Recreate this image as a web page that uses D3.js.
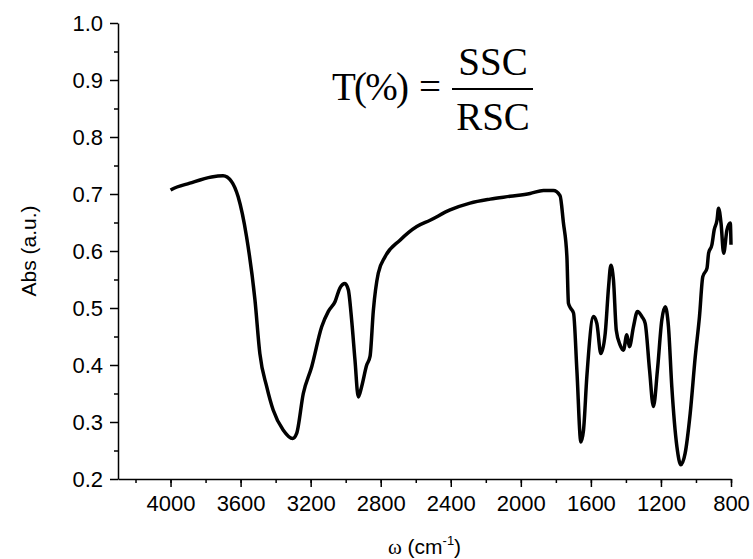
<!DOCTYPE html>
<html>
<head>
<meta charset="utf-8">
<script src="https://cdn.jsdelivr.net/npm/d3@7"></script>
<style>
  body { margin: 0; background: #fff; }
  svg { display: block; }
  .tick text { font-family: Arial, "Liberation Sans", sans-serif; font-size: 22px; fill: #000; }
  .axis path, .axis line { stroke: #000; stroke-width: 1.5; }
</style>
</head>
<body>
<svg id="chart"></svg>
<script>
// wavenumber (cm^-1) and absorbance
var wavenumbers = [4000, 3994, 3890, 3766, 3700, 3652, 3614, 3566, 3518, 3490, 3451, 3414, 3357, 3303, 3280,
  3242, 3194, 3137, 3099, 3061, 3033, 3004, 2985, 2966, 2947, 2928, 2909, 2880, 2861, 2842, 2814, 2775,
  2690, 2594, 2518, 2404, 2290, 2175, 2061, 1947, 1871, 1814, 1776, 1757, 1737, 1728, 1714, 1699, 1680,
  1657, 1642, 1623, 1585, 1566, 1543, 1518, 1499, 1486, 1471, 1455, 1433, 1414, 1395, 1380, 1357, 1334,
  1309, 1290, 1265, 1243, 1220, 1195, 1176, 1157, 1138, 1109, 1086, 1062, 1033, 1004, 980, 961, 937,
  928, 909, 896, 880, 871, 857, 842, 823, 804, 800];
var absorbance = [0.707, 0.708, 0.719, 0.730, 0.732, 0.722, 0.695, 0.625, 0.514, 0.420, 0.362, 0.321, 0.286, 0.271, 0.280,
  0.350, 0.397, 0.467, 0.494, 0.511, 0.535, 0.543, 0.532, 0.479, 0.409, 0.344, 0.362, 0.400, 0.415, 0.496, 0.561, 0.590,
  0.619, 0.643, 0.654, 0.672, 0.684, 0.691, 0.696, 0.701, 0.706, 0.706, 0.697, 0.650, 0.590, 0.508, 0.499, 0.491, 0.391,
  0.265, 0.286, 0.380, 0.485, 0.473, 0.420, 0.456, 0.537, 0.575, 0.549, 0.461, 0.435, 0.426, 0.453, 0.432, 0.467, 0.494,
  0.485, 0.473, 0.391, 0.327, 0.391, 0.479, 0.502, 0.467, 0.362, 0.257, 0.225, 0.245, 0.315, 0.415, 0.485, 0.555, 0.570,
  0.596, 0.611, 0.637, 0.654, 0.675, 0.649, 0.596, 0.637, 0.649, 0.611];

var xTicks = [4000, 3600, 3200, 2800, 2400, 2000, 1600, 1200, 800];
var yTicks = [0.2, 0.3, 0.4, 0.5, 0.6, 0.7, 0.8, 0.9, 1.0];

var width = 753, height = 559;
var margin = {top: 23, right: 22, bottom: 80, left: 118};

var svg = d3.select("#chart")
  .attr("width", width)
  .attr("height", height);

var x = d3.scaleLinear()
  .domain([4300, 800])
  .range([margin.left, width - margin.right]);

var y = d3.scaleLinear()
  .domain([0.2, 1.0])
  .range([height - margin.bottom, margin.top]);

// minor ticks first, major on top
svg.append("g")
  .attr("class", "axis")
  .attr("transform", "translate(0," + (height - margin.bottom) + ")")
  .call(d3.axisBottom(x).tickValues(d3.range(4200, 799, -200)).tickSize(4).tickFormat(""))
  .call(function (g) { g.select(".domain").remove(); });

svg.append("g")
  .attr("class", "axis")
  .attr("transform", "translate(" + margin.left + ",0)")
  .call(d3.axisLeft(y).tickValues(d3.range(0.25, 1.0, 0.1)).tickSize(4).tickFormat(""))
  .call(function (g) { g.select(".domain").remove(); });

svg.append("g")
  .attr("class", "axis")
  .attr("transform", "translate(0," + (height - margin.bottom) + ")")
  .call(d3.axisBottom(x).tickValues(xTicks).tickSize(8).tickSizeOuter(0).tickPadding(8).tickFormat(d3.format("d")));

svg.append("g")
  .attr("class", "axis")
  .attr("transform", "translate(" + margin.left + ",0)")
  .call(d3.axisLeft(y).tickValues(yTicks).tickSize(8).tickSizeOuter(0).tickPadding(7).tickFormat(d3.format(".1f")));

var line = d3.line()
  .x(function (d) { return x(d[0]); })
  .y(function (d) { return y(d[1]); })
  .curve(d3.curveMonotoneX);

svg.append("path")
  .datum(d3.zip(wavenumbers, absorbance))
  .attr("d", line)
  .attr("fill", "none")
  .attr("stroke", "#000")
  .attr("stroke-width", 3.5)
  .attr("stroke-linejoin", "round");

// axis titles
svg.append("text")
  .attr("transform", "translate(36," + (margin.top + height - margin.bottom) / 2 + ") rotate(-90)")
  .attr("text-anchor", "middle")
  .style("font-family", "Arial, 'Liberation Sans', sans-serif")
  .style("font-size", "21px")
  .text("Abs (a.u.)");

var xt = svg.append("text")
  .attr("x", (margin.left + width - margin.right) / 2)
  .attr("y", 554)
  .attr("text-anchor", "middle")
  .style("font-family", "Arial, 'Liberation Sans', sans-serif")
  .style("font-size", "21px");
xt.append("tspan").style("font-family", "'Liberation Serif', serif").text("ω");
xt.append("tspan").text(" (cm");
xt.append("tspan").attr("dy", -9).style("font-size", "13px").text("-1");
xt.append("tspan").attr("dy", 9).text(")");

// formula
var fx = svg.append("g").style("font-family", "'Liberation Serif', 'Times New Roman', serif").style("font-size", "39px");
fx.append("text").attr("x", 332).attr("y", 100).attr("textLength", 77).text("T(%)");
fx.append("text").attr("x", 419).attr("y", 100).attr("textLength", 23).text("=");
fx.append("line").attr("x1", 452).attr("x2", 533).attr("y1", 89).attr("y2", 89)
  .attr("stroke", "#000").attr("stroke-width", 2);
fx.append("text").attr("x", 493).attr("y", 75).attr("text-anchor", "middle").text("SSC");
fx.append("text").attr("x", 493).attr("y", 130).attr("text-anchor", "middle").text("RSC");
</script>
</body>
</html>
